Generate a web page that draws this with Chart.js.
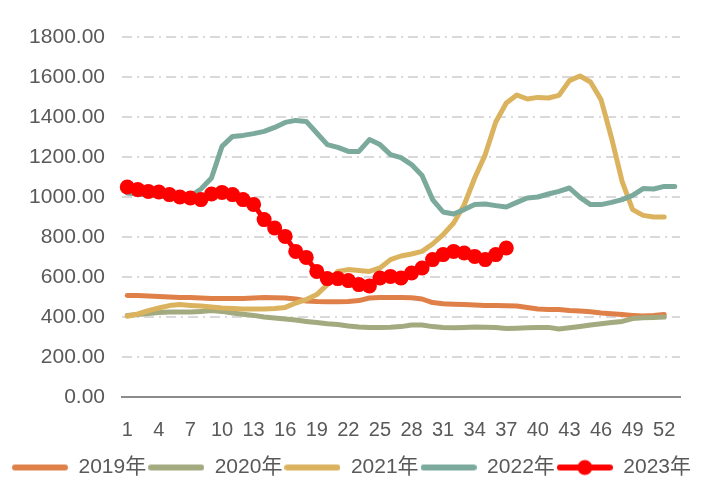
<!DOCTYPE html>
<html>
<head>
<meta charset="utf-8">
<script src="https://cdn.jsdelivr.net/npm/chart.js@4/dist/chart.umd.min.js"></script>
<style>
    html, body { margin: 0; padding: 0; background: #fff; }
    #wrap { width: 703px; height: 495px; position: relative; }
</style>
</head>
<body>
<div id="wrap"><canvas id="chart-main"></canvas></div>
<script>
/* weekly series, week 1..53 */
const weeks = Array.from({ length: 53 }, (_, i) => String(i + 1));

const seriesNames = ['2019年', '2020年', '2021年', '2022年', '2023年'];
const seriesColors = ['#DF8049', '#A4AA7F', '#DBB35E', '#7BAA9C', '#FF0000'];

const y2019 = [508, 507, 505, 503, 500, 498, 497, 495, 493, 492, 492, 493, 495, 497, 496, 495, 490, 480, 477, 476,
    476, 477, 482, 495, 498, 498, 497, 496, 490, 472, 466, 464, 462, 460, 458, 457, 456, 455, 448, 440,
    438, 438, 433, 430, 426, 420, 416, 412, 408, 405, 407, 412];
const y2020 = [408, 413, 418, 422, 425, 425, 425, 428, 432, 428, 420, 414, 408, 400, 395, 390, 385, 378, 372, 366,
    362, 355, 350, 348, 348, 349, 352, 360, 360, 352, 348, 346, 348, 350, 349, 348, 343, 344, 346, 348,
    348, 340, 346, 353, 360, 366, 372, 378, 392, 396, 398, 400];
const y2021 = [404, 415, 432, 445, 457, 462, 458, 455, 450, 445, 442, 440, 440, 440, 442, 448, 470, 487, 512, 562,
    628, 637, 632, 628, 645, 687, 705, 715, 728, 765, 812, 870, 960, 1095, 1212, 1375, 1470, 1510, 1490, 1498,
    1495, 1508, 1582, 1605, 1575, 1487, 1295, 1078, 937, 908, 900, 900];
const y2022 = [1020, 1015, 1010, 1005, 1000, 998, 1005, 1040, 1095, 1253, 1303, 1308, 1317, 1328, 1348, 1373, 1383, 1378, 1320, 1262,
    1248, 1228, 1228, 1287, 1262, 1212, 1197, 1162, 1108, 987, 925, 915, 937, 962, 965, 957, 950, 973, 995, 1000,
    1015, 1028, 1045, 998, 962, 962, 973, 987, 1008, 1042, 1040, 1053, 1053];
const y2023 = [1050, 1037, 1028, 1025, 1012, 1000, 995, 987, 1015, 1023, 1012, 987, 963, 887, 845, 803, 728, 698, 628, 592,
    592, 582, 562, 555, 595, 603, 595, 620, 645, 687, 712, 728, 720, 703, 687, 712, 745];

const seriesData = [y2019, y2020, y2021, y2022, y2023];

const FONT = "'Liberation Sans', 'Noto Sans CJK SC', sans-serif";
const TEXT = '#595959';

// legend sample: a short thick line, with a dot for the marker series
function legendSample(color, withDot) {
    const c = document.createElement('canvas');
    c.width = 56; c.height = 18;
    const g = c.getContext('2d');
    g.strokeStyle = color;
    g.lineWidth = 6;
    g.lineCap = 'round';
    g.beginPath();
    g.moveTo(3, 9);
    g.lineTo(53, 9);
    g.stroke();
    if (withDot) {
        g.fillStyle = color;
        g.beginPath();
        g.arc(28, 9, 7.5, 0, Math.PI * 2);
        g.fill();
    }
    return c;
}

const datasets = seriesNames.map((name, i) => {
    const isMarked = i === seriesNames.length - 1;
    return {
        label: name,
        data: seriesData[i],
        borderColor: seriesColors[i],
        backgroundColor: seriesColors[i],
        borderWidth: 5,
        tension: 0,
        borderJoinStyle: 'round',
        borderCapStyle: 'round',
        pointRadius: isMarked ? 7.5 : 0,
        pointHoverRadius: isMarked ? 7.5 : 0,
        pointBorderWidth: 0,
        pointBackgroundColor: seriesColors[i],
        order: seriesNames.length - i,   // later years drawn on top
    };
});

new Chart(document.getElementById('chart-main'), {
    type: 'line',
    data: { labels: weeks, datasets },
    options: {
        responsive: true, maintainAspectRatio: false,
        animation: false,
        layout: { padding: { left: 0, right: 0, top: 37, bottom: 7 } },
        plugins: {
            tooltip: { enabled: false },
            legend: {
                position: 'bottom',
                labels: {
                    color: TEXT,
                    font: { family: FONT, size: 21 },
                    usePointStyle: true,
                    pointStyleWidth: 56,
                    boxHeight: 18,
                    padding: 2,
                    generateLabels: () => seriesNames.map((name, i) => ({
                        text: name,
                        fillStyle: seriesColors[i],
                        strokeStyle: seriesColors[i],
                        lineWidth: 0,
                        pointStyle: legendSample(seriesColors[i], i === seriesNames.length - 1),
                        fontColor: TEXT,
                        hidden: false,
                        datasetIndex: i,
                    })),
                },
            },
        },
        scales: {
            x: {
                offset: true,
                grid: { display: false, drawTicks: false },
                border: { display: true, color: '#8C8C8C', width: 2 },
                ticks: {
                    color: TEXT, font: { family: FONT, size: 20 },
                    autoSkip: false, maxRotation: 0, padding: 21,
                    callback: (v, idx) => idx % 3 === 0 ? weeks[idx] : '',
                },
                afterFit: axis => { axis.height = 58; },
            },
            y: {
                min: 0, max: 1800,
                grid: { color: '#D9D9D9', lineWidth: 2, drawTicks: false },
                border: { display: false, dash: [10, 5, 2, 5] },
                ticks: {
                    stepSize: 200, color: TEXT, font: { family: FONT, size: 21 }, padding: 17,
                    callback: v => v.toFixed(2),
                },
                afterFit: axis => { axis.width = 122; },
            },
            // empty right-hand axis, only keeps the plot clear of the right edge
            yRight: {
                position: 'right',
                grid: { display: false, drawTicks: false },
                border: { display: false },
                ticks: { display: false },
                afterFit: axis => { axis.width = 23; },
            },
        },
    },
});
</script>
</body>
</html>
